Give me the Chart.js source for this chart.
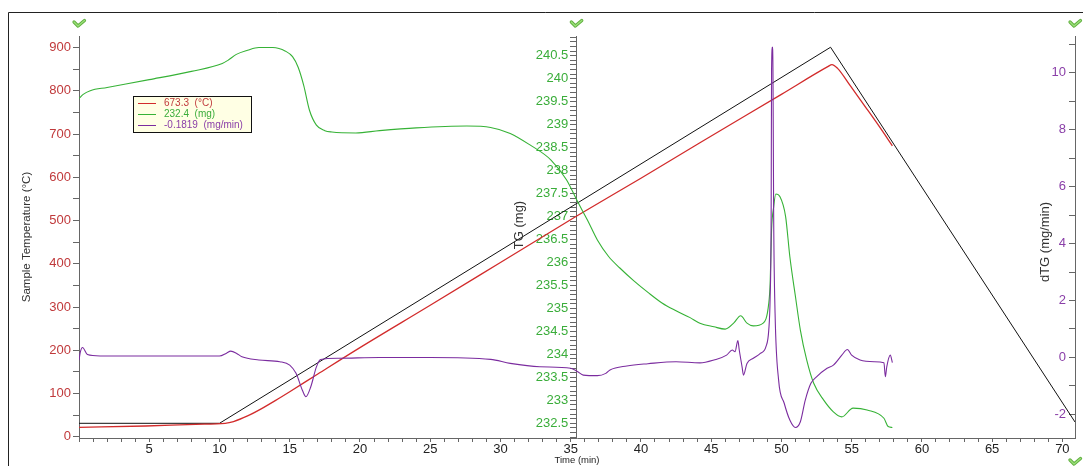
<!DOCTYPE html>
<html>
<head>
<meta charset="utf-8">
<script src="https://cdn.jsdelivr.net/npm/chart.js@4.4.1/dist/chart.umd.min.js"></script>
<style>
  html, body { margin: 0; padding: 0; background: #ffffff; }
  #wrap { position: relative; width: 1083px; height: 466px; }
  canvas { display: block; }
</style>
</head>
<body>
<div id="wrap"><canvas id="c" width="1083" height="466"></canvas></div>
<script>
// ---------------- data ----------------
// Sample temperature (°C) vs time (min)
const sampleTime = [0, 4.75, 8.3, 10.4, 11, 12, 13, 14, 15, 17, 20, 25, 30, 35.4, 40, 44.2, 50, 53.3, 53.6, 54, 54.9, 56, 57, 57.9];
const sampleTemp = [21.7, 24.8, 28.7, 31, 35, 48, 65, 84, 104, 145, 206, 304, 403, 510, 598, 680, 792, 856, 861, 852, 812, 762, 716, 673];

// Programme temperature (°C) vs time (min) – black line
const progTime = [0, 10, 53.5, 70.9];
const progTemp = [31, 31, 901, 34];

// TG (mg) vs time (min)
const tgTime = [0, 0.3, 0.8, 2, 5, 8, 10.2, 10.6, 11.2, 12, 12.8, 13.8, 14.7, 15.2, 15.6, 16.0, 16.4, 16.9, 17.5, 18,
  19.7, 21.4, 24, 27.6, 29.3, 30.7, 32.1, 33.6, 34.7, 35.5, 36.2, 36.9, 37.7, 38.5, 39.5, 40.5, 41.5, 42.5, 43.5, 44.2,
  45.2, 46.0, 46.6, 47.1, 47.55, 48.0, 48.7, 49.1, 49.2, 49.3, 49.45, 49.6, 49.9, 50.3, 50.6, 51.0, 51.35, 51.8, 52.3,
  53.0, 53.7, 54.3, 55.1, 56.1, 57.3, 57.6, 57.9];
const tgMass = [239.57, 239.66, 239.74, 239.81, 239.98, 240.16, 240.33, 240.40, 240.53, 240.62, 240.68, 240.68, 240.6,
  240.48, 240.25, 239.85, 239.32, 238.99, 238.87, 238.84, 238.82, 238.87, 238.93, 238.97, 238.94, 238.81, 238.56, 238.23,
  237.8, 237.32, 236.92, 236.49, 236.13, 235.88, 235.6, 235.35, 235.12, 234.95, 234.8, 234.68, 234.6, 234.55, 234.68,
  234.84, 234.68, 234.62, 234.68, 235.11, 235.55, 236.71, 237.21, 237.49, 237.43, 237.0, 236.13, 235.26, 234.53, 233.88,
  233.37, 233.01, 232.75, 232.64, 232.83, 232.79, 232.61, 232.43, 232.41];

// dTG (mg/min) vs time (min)
const dtgTime = [0, 0.1, 0.25, 0.6, 1.5, 5, 10, 10.5, 10.8, 11.2, 11.6, 12.8, 14.3, 15.0, 15.45, 15.9, 16.15, 16.5, 16.9,
  17.2, 18.5, 21.4, 25, 29.3, 30.7, 32.8, 35.0, 35.5, 35.9, 36.9, 37.5, 37.8, 39, 40.5, 42.5, 44.2, 45.2, 46.1, 46.5, 46.7,
  46.9, 47.0, 47.2, 47.3, 47.55, 48.0, 48.5, 48.9, 49.1, 49.2, 49.27, 49.3, 49.36, 49.4, 49.45, 49.55, 49.8, 50.2, 50.6,
  51.0, 51.35, 51.7, 52.1, 52.5, 53.25, 53.7, 54.3, 54.7, 55.0, 55.6, 56.6, 57.3, 57.4, 57.5, 57.75, 57.9];
const dtgRate = [-0.1, 0.2, 0.35, 0.1, 0.05, 0.05, 0.05, 0.15, 0.22, 0.15, 0.02, -0.09, -0.15, -0.27, -0.56, -1.15, -1.38,
  -1.03, -0.33, -0.07, -0.03, 0.0, 0.0, -0.07, -0.21, -0.33, -0.38, -0.5, -0.62, -0.64, -0.56, -0.44, -0.3, -0.22, -0.15,
  -0.19, -0.09, 0.08, 0.26, 0.2, 0.59, 0.26, -0.33, -0.62, -0.21, -0.03, 0.14, 0.38, 0.96, 2.13, 4.94, 10.09, 10.9, 10.09,
  4.94, 1.55, -0.79, -1.61, -2.2, -2.46, -2.26, -1.5, -0.91, -0.68, -0.38, -0.27, 0.08, 0.28, 0.08, -0.09, -0.15, -0.19,
  -0.68, -0.33, 0.08, -0.18];

// axes / labels
const timeRange = [0, 70.9];
const tempRange = [-3, 927];
const tgRange = [232.18, 240.93];
const dtgRange = [-2.83, 11.29];
const tgAxisAt = 35.4;          // time at which the TG axis is drawn
const axisTitles = ['Sample Temperature (°C)', 'TG (mg)', 'dTG (mg/min)', 'Time (min)'];
const legendLabels = ['673.3  (°C)', '232.4  (mg)', '-0.1819  (mg/min)'];

// ---------------- styling ----------------
const RED = '#d22b2b', GREEN = '#36b236', PURPLE = '#7b2c9f', BLACK = '#111111';
const RED_T = '#c0393b', GREEN_T = '#3aad3a', PURPLE_T = '#8a3fa8';
const AXIS = '#666666';
const FONT = "'Liberation Sans', Arial, sans-serif";
const innerLabelShift = { y1: 8, y2: 9 };   // gap between inner-axis labels and their axis line

const pts = (xs, ys) => xs.map((x, i) => ({ x: x, y: ys[i] }));

function axisCommon(tickLen) {
  return {
    grid: { drawOnChartArea: false, drawTicks: true, tickLength: tickLen, color: AXIS, lineWidth: 1 },
    border: { display: true, color: AXIS, width: 1 },
  };
}

const decorPlugin = {
  id: 'decor',
  beforeDraw(chart) {
    // move labels of the axes positioned inside the plot to the left of their tick marks
    Object.keys(innerLabelShift).forEach(id => {
      const s = chart.scales[id];
      const items = s.getLabelItems();
      if (!items._shifted) {
        items.forEach(it => { it.options.translation[0] -= innerLabelShift[id]; });
        items._shifted = true;
      }
    });
  },
  afterDraw(chart) {
    const ctx = chart.ctx;
    const xs = chart.scales.x;
    ctx.save();
    // outer frame (top and left)
    ctx.strokeStyle = '#222';
    ctx.lineWidth = 1;
    ctx.beginPath();
    ctx.moveTo(8.5, 466); ctx.lineTo(8.5, 12.5); ctx.lineTo(1083, 12.5);
    ctx.stroke();

    // rotated titles for the inner axes
    ctx.fillStyle = '#333';
    ctx.font = "13px " + FONT;
    ctx.textAlign = 'center';
    ctx.textBaseline = 'middle';
    const drawV = (text, x, y) => {
      ctx.save(); ctx.translate(x, y); ctx.rotate(-Math.PI / 2); ctx.fillText(text, 0, 0); ctx.restore();
    };
    drawV(axisTitles[1], xs.getPixelForValue(tgAxisAt) - 57, 225);
    drawV(axisTitles[2], xs.getPixelForValue(timeRange[1]) - 30, 242);

    // cursor markers (green ticks)
    const check = (x, y) => {
      ctx.save();
      ctx.lineCap = 'round'; ctx.lineJoin = 'round';
      ctx.strokeStyle = '#5fae3e'; ctx.lineWidth = 3.2;
      ctx.beginPath(); ctx.moveTo(x - 5, y - 1.5); ctx.lineTo(x - 1, y + 2.5); ctx.lineTo(x + 5.5, y - 3); ctx.stroke();
      ctx.strokeStyle = '#9be07a'; ctx.lineWidth = 1.4;
      ctx.beginPath(); ctx.moveTo(x - 5, y - 1.5); ctx.lineTo(x - 1, y + 2.5); ctx.lineTo(x + 5.5, y - 3); ctx.stroke();
      ctx.restore();
    };
    check(xs.getPixelForValue(0), 23.5);
    check(xs.getPixelForValue(tgAxisAt), 23.5);
    check(xs.getPixelForValue(timeRange[1]), 23.5);
    check(xs.getPixelForValue(timeRange[1]), 461.5);

    // legend box
    const lx = 133.5, ly = 96.5, lw = 118, lh = 36;
    ctx.fillStyle = '#ffffe4';
    ctx.fillRect(lx, ly, lw, lh);
    ctx.strokeStyle = '#111'; ctx.lineWidth = 1;
    ctx.strokeRect(lx, ly, lw, lh);
    const cols = [RED, GREEN, PURPLE];
    const tcols = [RED_T, GREEN_T, PURPLE_T];
    ctx.font = "10px " + FONT;
    ctx.textAlign = 'left';
    ctx.textBaseline = 'middle';
    legendLabels.forEach((t, i) => {
      const y = 103 + i * 11.2;
      ctx.strokeStyle = cols[i]; ctx.lineWidth = 1;
      ctx.beginPath(); ctx.moveTo(138, Math.round(y) + 0.5); ctx.lineTo(156, Math.round(y) + 0.5); ctx.stroke();
      ctx.fillStyle = tcols[i];
      ctx.fillText(t, 164, y);
    });
    ctx.restore();
  }
};

const chart = new Chart(document.getElementById('c'), {
  type: 'line',
  data: {
    datasets: [
      { label: 'dTG', data: pts(dtgTime, dtgRate), yAxisID: 'y2', borderColor: PURPLE, borderWidth: 1.1,
        pointRadius: 0, cubicInterpolationMode: 'monotone' },
      { label: 'TG', data: pts(tgTime, tgMass), yAxisID: 'y1', borderColor: GREEN, borderWidth: 1.1,
        pointRadius: 0, cubicInterpolationMode: 'monotone' },
      { label: 'Sample Temperature', data: pts(sampleTime, sampleTemp), yAxisID: 'y', borderColor: RED, borderWidth: 1.3,
        pointRadius: 0, cubicInterpolationMode: 'monotone' },
      { label: 'Programme', data: pts(progTime, progTemp), yAxisID: 'y', borderColor: BLACK, borderWidth: 1,
        pointRadius: 0, tension: 0 },
    ]
  },
  options: {
    responsive: false,
    animation: false,
    events: [],
    layout: { padding: { top: 36, right: 8, bottom: 0, left: 0 } },
    plugins: { legend: { display: false }, tooltip: { enabled: false } },
    scales: {
      x: Object.assign(axisCommon(4), {
        type: 'linear', position: 'bottom', min: timeRange[0], max: timeRange[1],
        afterFit: s => { s.height = 28; },
        ticks: {
          stepSize: 1, autoSkip: false, maxRotation: 0, includeBounds: false, padding: 0,
          color: '#222', font: { family: FONT, size: 13 },
          callback: v => (v > 0 && Math.abs(v % 5) < 1e-9) ? String(v) : ''
        },
        title: { display: true, text: axisTitles[3], color: '#222', font: { family: FONT, size: 9.5 }, padding: 0 }
      }),
      y: Object.assign(axisCommon(6), {
        type: 'linear', position: 'left', min: tempRange[0], max: tempRange[1],
        afterFit: s => { s.width = 79; },
        ticks: {
          stepSize: 50, autoSkip: false, includeBounds: false, padding: 2,
          color: RED_T, font: { family: FONT, size: 13 },
          callback: v => (Math.abs(v % 100) < 1e-9) ? String(v) : ''
        },
        title: { display: true, text: axisTitles[0], color: '#333', font: { family: FONT, size: 11.5 },
          padding: { top: 20, bottom: 0 } }
      }),
      y1: Object.assign(axisCommon(6), {
        type: 'linear', position: { x: tgAxisAt }, min: tgRange[0], max: tgRange[1],
        ticks: {
          stepSize: 0.1, autoSkip: false, includeBounds: false, padding: 2,
          color: GREEN_T, font: { family: FONT, size: 13 },
          callback: v => {
            const r = Math.round(v * 10) / 10;
            return Math.abs(r * 2 - Math.round(r * 2)) < 1e-6 ? String(r) : '';
          }
        },
        title: { display: false }
      }),
      y2: Object.assign(axisCommon(6), {
        type: 'linear', position: { x: timeRange[1] }, min: dtgRange[0], max: dtgRange[1],
        ticks: {
          stepSize: 1, autoSkip: false, includeBounds: false, padding: 2,
          color: PURPLE_T, font: { family: FONT, size: 13 },
          callback: v => (Math.abs(v % 2) < 1e-9) ? String(v) : ''
        },
        title: { display: false }
      })
    }
  },
  plugins: [decorPlugin]
});
</script>
</body>
</html>
